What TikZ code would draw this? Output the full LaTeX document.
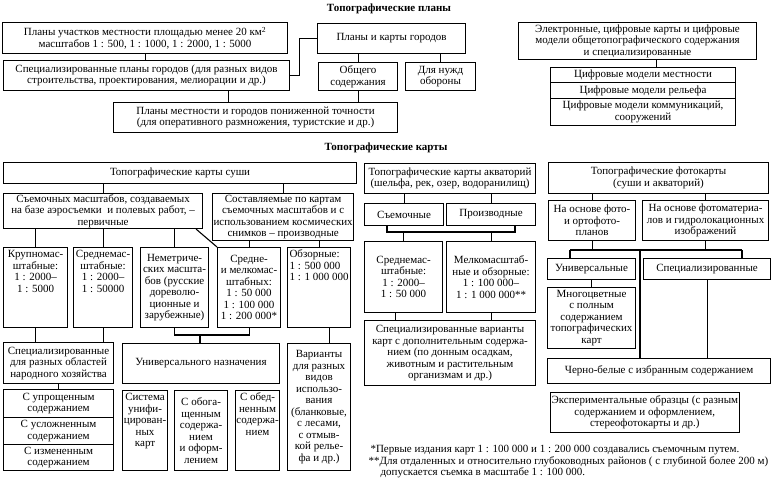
\documentclass[tikz,border=0pt]{standalone}
\usepackage{fontspec}
\setmainfont{Liberation Serif}
\hyphenpenalty=10000
\exhyphenpenalty=10000
\begin{document}
\begin{tikzpicture}[
	x=1pt,
	y=-1pt,
	font=\fontsize{11}{11.5}\selectfont,
	line width=1.1pt,
	bx/.style 2 args={draw,anchor=north west,align=center,inner xsep=1pt,inner ysep=0pt,minimum width=#1,minimum height=#2},
	bt/.style 2 args={bx={#1}{#2},inner xsep=0.5pt,text width=#1-1,text depth=#2-13,align=flush center},
	ti/.style={font=\fontsize{11}{11.5}\selectfont\bfseries},
	nt/.style={anchor=north west,align=left,inner sep=0pt,font=\fontsize{11}{10}\selectfont},
	]
\useasboundingbox (0,0) rectangle (771,477);
\node [ti] (tp) at (389,9) {Топографические планы};
\node [bx={285}{31}] (pa) at (2,22) {Планы участков местности площадью менее 20 км\textsuperscript{2}\\масштабов 1 : 500, 1 : 1000, 1 : 2000, 1 : 5000};
\node [bx={286}{30}] (pb) at (3,60) {Специализированные планы городов (для разных видов\\строительства, проектирования, мелиорации и др.)};
\node [bx={148}{30}] (pc) at (317,23) {Планы и карты городов};
\node [bx={79}{28}] (pd) at (318,62) {Общего\\содержания};
\node [bx={70}{28}] (pe) at (405,62) {Для нужд\\обороны};
\node [bx={284}{30}] (ph) at (113,102) {Планы местности и городов пониженной точности\\(для оперативного размножения, туристские и др.)};
\node [bx={238}{37}] (pf) at (518,22) {Электронные, цифровые карты и цифровые\\модели общетопографического содержания\\и специализированные};
\node [bx={185}{15}] (g1) at (550,67) {Цифровые модели местности};
\node [bx={185}{16}] (g2) at (550,82) {Цифровые модели рельефа};
\node [bx={185}{27}] (g3) at (550,98) {Цифровые модели коммуникаций,\\сооружений};
\draw (pa.south) -- (pa.south |- pb.north);
\draw (pb.east) -- ++(9,0) |- (pc.west);
\draw (pd.north) -- (pd.north |- pc.south);
\draw (pe.north) -- (pe.north |- pc.south);
\draw ([xshift=-27pt]ph.north) -- ([xshift=-27pt]ph.north |- pb.south);
\draw (pd.south) -- (pd.south |- ph.north);
\draw ([xshift=13pt]g1.north) -- ([xshift=13pt]g1.north |- pf.south);

\node [ti] (tk) at (386,148) {Топографические карты};
\node [bx={353}{21}] (ka) at (3,162) {Топографические карты суши};
\node [bx={199}{35}] (kb) at (3,193) {Съемочных масштабов, создаваемых\\на базе аэросъемки\ \ и полевых работ, –\\первичные};
\node [bx={138}{47}] (kc) at (212,193) {Составляемые по картам\\съемочных масштабов и с\\использованием космических\\снимков – производные};
\node [bt={64}{80}] (k1) at (3,247) {Крупномас-\\штабные:\\1 : 2000–\\1 : 5000};
\node [bt={59}{80}] (k2) at (73,247) {Среднемас-\\штабные:\\1 : 2000–\\1 : 50000};
\node [bx={68}{80}] (k3) at (140,247) {Неметриче-\\ских масшта-\\бов (русские\\дореволю-\\ционные и\\зарубежные)};
\node [bx={63}{80}] (k4) at (217,247) {Средне-\\и мелкомас-\\штабных:\\1 : 50 000\\1 : 100 000\\1 : 200 000*};
\node [bt={63}{80},inner xsep=2pt,text width=59,align=flush left] (k5) at (287,247) {Обзорные:\\1 : 500 000\\1 : 1 000 000};
\draw (kb.north) -- (kb.north |- ka.south);
\draw (kc.north) -- (kc.north |- ka.south);
\draw (k1.north) -- (k1.north |- kb.south);
\draw (k2.north) -- (k2.north |- kb.south);
\draw (k3.north) -- (k3.north |- kb.south);
\draw ([xshift=-7pt]kb.south east) -- (k4.north west);
\draw (k4.north) -- (k4.north |- kc.south);
\draw (k5.north) -- (k5.north |- kc.south);
\node [bx={110}{41}] (s1) at (3,342) {Специализированные\\для разных областей\\народного хозяйства};
\node [bx={110}{28}] (s2) at (3,389) {С упрощенным\\содержанием};
\node [bx={110}{27}] (s3) at (3,417) {С усложненным\\содержанием};
\node [bx={110}{26}] (s4) at (3,444) {С измененным\\содержанием};
\node [bx={157}{40}] (u) at (122,343) {Универсального назначения};
\node [bt={45}{80}] (u1) at (122,390) {Система\\унифи-\\цирован-\\ных\\карт};
\node [bx={53}{80}] (u2) at (174,390) {С обога-\\щенным\\содержа-\\нием\\и оформ-\\лением};
\node [bt={44}{80}] (u3) at (235,390) {С обед-\\ненным\\содержа-\\нием};
\node [bx={63}{127}] (v) at (287,343) {Варианты\\для разных\\видов\\использо-\\вания\\(бланковые,\\с лесами,\\с отмыв-\\кой релье-\\фа и др.)};
\coordinate (kj) at (200,335);
\draw (k1.south) -- (k1.south |- s1.north);
\draw (k2.south) -- (k2.south |- s1.north);
\draw (k3.south) |- (kj) -| (k4.south);
\draw (kj) -- (kj |- u.north);
\draw ([xshift=10pt]k5.south) -- ([xshift=10pt]k5.south |- v.north);
\draw (s1.south) -- (s1.south |- s2.north);

\node [bx={171}{30}] (wa) at (364,163) {Топографические карты акваторий\\(шельфа, рек, озер, водоранилищ)};
\node [bx={79}{22}] (wb) at (364,203) {Съемочные};
\node [bx={89}{22}] (wc) at (446,203) {Производные};
\node [bx={78}{71}] (wd) at (364,241) {Среднемас-\\штабные:\\1 : 2000–\\1 : 50 000};
\node [bx={89}{71}] (we) at (446,241) {Мелкомасштаб-\\ные и обзорные:\\1 : 100 000–\\1 : 1 000 000**};
\node [bx={171}{65}] (wf) at (364,320) {Специализированные варианты\\карт с дополнительным содержа-\\нием (по донным осадкам,\\животным и растительным\\организмам и др.)};
\coordinate (wl) at (387,232);
\coordinate (wr) at (515,232);
\draw (wb.north) -- (wb.north |- wa.south);
\draw (wc.north) -- (wc.north |- wa.south);
\draw (wb.south -| wl) -- (wl) -- (wr) -- (wc.south -| wr);
\draw (wd.north) -- (wd.north |- wl);
\draw (we.north) -- (we.north |- wl);
\draw ([xshift=-8pt]wd.south) -- ([xshift=-8pt]wd.south |- wf.north);
\draw (we.south) -- (we.south |- wf.north);

\node [bx={220}{31}] (fa) at (548,162) {Топографические фотокарты\\(суши и акваторий)};
\node [bx={87}{40}] (fb) at (548,200) {На основе фото-\\и ортофото-\\планов};
\node [bx={126}{40}] (fc) at (642,200) {На основе фотоматериа-\\лов и гидролокационных\\изображений};
\node [bx={88}{21}] (fu) at (547,258) {Универсальные};
\node [bx={127}{21}] (fs) at (643,258) {Специализированные};
\node [bx={88}{61}] (fn) at (547,287) {Многоцветные\\с полным\\содержанием\\топографических\\карт};
\node [bx={223}{25}] (fw) at (547,358) {Черно-белые с избранным содержанием};
\node [bx={148}{40}] (fx) at (550,392) {Экспериментальные образцы (с разным\\содержанием и оформлением,\\стереофотокарты и др.)};
\coordinate (fl) at (570,250);
\coordinate (fm) at (640,250);
\coordinate (fr) at (742,250);
\draw (fb.north) -- (fb.north |- fa.south);
\draw (fc.north) -- (fc.north |- fa.south);
\draw (fl) -- (fr);
\draw (fb.south) -- (fb.south |- fl);
\draw (fc.south) -- (fc.south |- fl);
\draw (fl) -- (fl |- fu.north);
\draw (fr) -- (fr |- fs.north);
\draw (fm) -- (fm |- fw.north);
\draw (fs.south) -- (fs.south |- fw.north);
\draw (fu.south) -- (fu.south |- fn.north);

\node [nt] (sn) at (368,445) {\hspace*{2pt}*Первые издания карт 1 : 100 000 и 1 : 200 000 создавались съемочным путем.\\**Для отдаленных и относительно глубоководных районов ( с глубиной более 200 м)\\\hspace*{12pt}допускается съемка в масштабе 1 : 100 000.};
\end{tikzpicture}
\end{document}
